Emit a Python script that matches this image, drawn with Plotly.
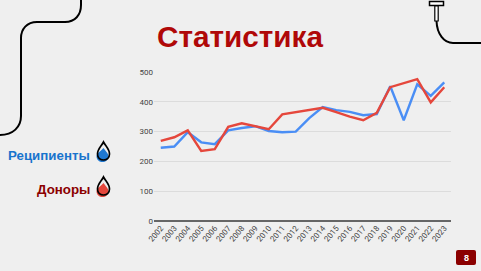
import plotly.graph_objects as go

years = [str(y) for y in range(2002, 2024)]
recipients = [246, 250, 298, 264, 258, 304, 312, 318, 302, 298, 300, 345, 382, 372, 366, 355, 359, 452, 338, 459, 420, 465]
donors = [269, 281, 304, 235, 241, 316, 328, 319, 308, 358, 365, 373, 380, 365, 350, 338, 363, 449, 462, 476, 398, 449]
y_ticks = [0, 100, 200, 300, 400, 500]
title = "Статистика"
label_recipients = "Реципиенты"
label_donors = "Доноры"
page = "8"

W, H = 481, 271
BG = "#efefef"
DARKRED = "#8b0000"

fig = go.Figure()
fig.add_trace(go.Scatter(x=years, y=recipients, mode="lines", line=dict(color="#4a8ef5", width=2.4), showlegend=False))
fig.add_trace(go.Scatter(x=years, y=donors, mode="lines", line=dict(color="#e5473c", width=2.4), showlegend=False))
# invisible pixel-space overlay for slide decorations
fig.add_trace(go.Scatter(x=[0], y=[0], xaxis="x2", yaxis="y2", mode="markers", marker=dict(opacity=0), showlegend=False, hoverinfo="skip"))

shapes = []
def path(d, **kw):
    shapes.append(dict(type="path", path=d, xref="x2", yref="y2", layer="above", **kw))

blk = dict(color="black", width=2)
path("M 81,0 L 81,5 C 81,15 75,22 65,22 L 37,22 C 27,22 21,29 21,38 L 21,116 C 21,127 13,135 0,135", line=blk)
path("M 436.5,21 C 437,34 444,43 453,43 L 481,43", line=blk)
path("M 429.5,1.5 L 443.5,1.5 L 443.5,5.5 L 429.5,5.5 Z", line=dict(color="black", width=1.5), fillcolor="white")
path("M 434.8,6 L 438.2,6 L 438.2,21 L 434.8,21 Z", line=dict(color="black", width=1.2), fillcolor="white")

def drop(cx, top, fill):
    path(f"M {cx},{top+6} C {cx+3},{top+10} {cx+5},{top+12} {cx+5},{top+14} C {cx+5},{top+18} {cx+2},{top+20} {cx-1},{top+20} C {cx-4},{top+20} {cx-7},{top+18} {cx-7},{top+14} C {cx-7},{top+12} {cx-4},{top+10} {cx},{top+6} Z",
         line=dict(width=0), fillcolor=fill)
    path(f"M {cx},{top} C {cx+2},{top+4} {cx+6},{top+7} {cx+6},{top+12} C {cx+6},{top+16} {cx+3},{top+18} {cx},{top+18} C {cx-3},{top+18} {cx-6},{top+16} {cx-6},{top+12} C {cx-6},{top+7} {cx-2},{top+4} {cx},{top} Z",
         line=dict(color="black", width=1.7))
drop(103.5, 142, "#1f78d1")
drop(103.5, 177, "#e5473c")

path("M 458,250 L 474,250 Q 476,250 476,252 L 476,263 Q 476,265 474,265 L 458,265 Q 456,265 456,263 L 456,252 Q 456,250 458,250 Z",
     line=dict(width=0), fillcolor=DARKRED)

def text(x, y, s, size, color, anchor="center", bold=True):
    return dict(x=x, y=y, xref="x2", yref="y2", text=f"<b>{s}</b>" if bold else s, showarrow=False,
                xanchor=anchor, yanchor="middle", font=dict(family="Liberation Sans", size=size, color=color))

annotations = [
    text(240, 36.5, title, 29.7, "#b00808"),
    text(92, 155.5, label_recipients, 13.3, "#1874cd", "right"),
    text(92, 189.5, label_donors, 13.3, DARKRED, "right"),
    text(466, 257.5, page, 9, "white"),
]

fig.update_layout(
    width=W, height=H, margin=dict(l=0, r=0, t=0, b=0, autoexpand=False), autosize=False,
    paper_bgcolor=BG, plot_bgcolor="rgba(0,0,0,0)", shapes=shapes, annotations=annotations,
    xaxis=dict(domain=[154/W, 451/W], type="category", range=[-0.5, 21.5], tickangle=-50, showgrid=False, showline=False, zeroline=False,
               ticks="", tickfont=dict(family="Roboto", size=8, color="#444444"), anchor="y", tickmode="array", tickvals=years, ticktext=years),
    yaxis=dict(domain=[1-221/H, 1-72/H], range=[0, 500], tickvals=y_ticks, gridcolor="#dcdcdc", gridwidth=1,
               zeroline=True, zerolinecolor="#666666", zerolinewidth=1.5, ticks="",
               tickfont=dict(family="Roboto", size=8, color="#444444"), anchor="x"),
    xaxis2=dict(domain=[0, 1], range=[0, W], visible=False, anchor="y2", fixedrange=True),
    yaxis2=dict(domain=[0, 1], range=[H, 0], visible=False, anchor="x2", fixedrange=True),
    hovermode=False,
)
fig.write_html("out.html", config=dict(displayModeBar=False), post_script="document.body.style.margin='0';")
